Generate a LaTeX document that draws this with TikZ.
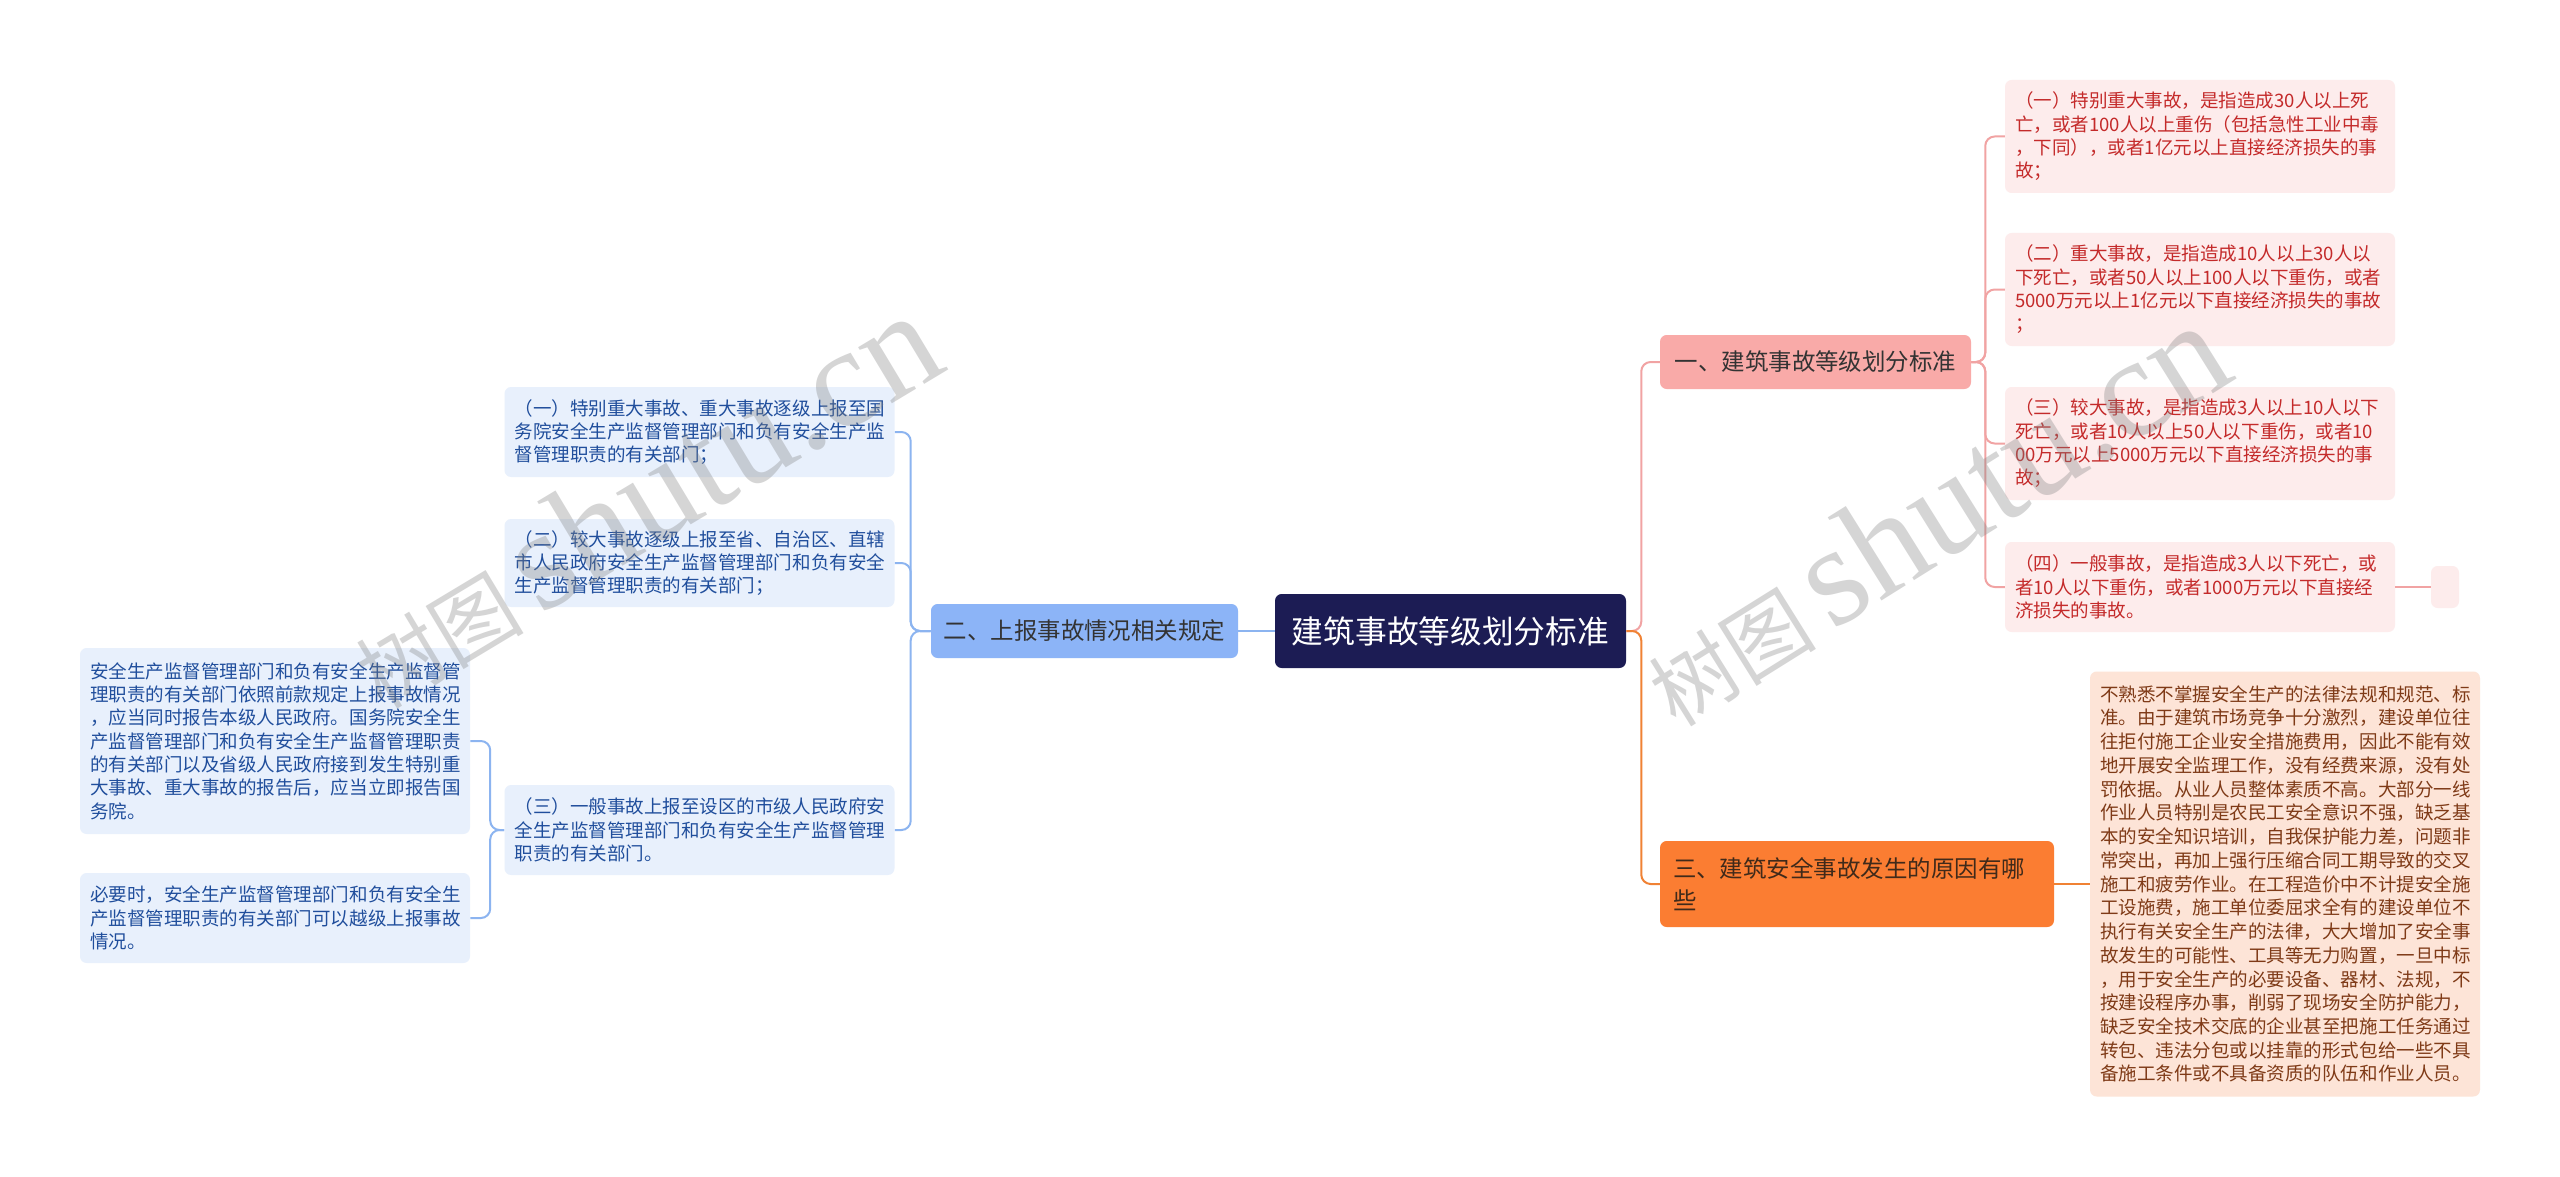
\documentclass[tikz,border=0pt]{standalone}
\usepackage{fontspec}
\setmainfont{Noto Sans CJK SC}
\newfontfamily\wmserif{Liberation Serif}
\definecolor{cfill}{HTML}{1C1C54}
\definecolor{yifill}{HTML}{F9AAA8}
\definecolor{erfill}{HTML}{8CB4F7}
\definecolor{sanfill}{HTML}{FB7D32}
\definecolor{lfill}{HTML}{FDECEC}
\definecolor{ltext}{HTML}{C42A2A}
\definecolor{bfill}{HTML}{E8F0FC}
\definecolor{btext}{HTML}{204E9C}
\definecolor{dfill}{HTML}{FDE4D7}
\definecolor{dtext}{HTML}{7F3A17}
\definecolor{pinkline}{HTML}{F1A3A3}
\definecolor{blueline}{HTML}{8CB4F0}
\definecolor{orangeline}{HTML}{F08234}
\definecolor{darktext}{HTML}{333333}
\definecolor{santext}{HTML}{402A1A}
\tikzset{
  box/.style={rounded corners=5pt, inner ysep=0pt},
  leaf/.style={box, inner xsep=7.5pt, text width=277.5pt, align=left,
    minimum width=292.5pt, font=\fontsize{13.9pt}{17.5pt}\selectfont},
  redleaf/.style={leaf, fill=lfill, text=ltext},
  blueleaf/.style={leaf, fill=bfill, text=btext},
  peachleaf/.style={leaf, fill=dfill, text=dtext, font=\fontsize{13.9pt}{17.8pt}\selectfont},
  branch/.style={box, align=center, minimum height=40.5pt, text=darktext,
    font=\fontsize{17.6pt}{24pt}\selectfont},
  link/.style={line width=1.5pt, rounded corners=7pt},
  wm/.style={text=gray, opacity=0.33, inner sep=0pt}
}
\begin{document}
\begin{tikzpicture}[x=0.75pt,y=-0.75pt]
\useasboundingbox (0,0) rectangle (2560,1177);
\fill[white] (0,0) rectangle (2560,1177);

% central node
\node[box, fill=cfill, text=white, minimum width=263.25pt, minimum height=55.5pt,
  font=\fontsize{23.8pt}{28pt}\selectfont] (root) at (1450.5,631) {建筑事故等级划分标准};

% branches
\node[branch, fill=yifill, minimum width=233.25pt] (yi) at (1815.5,362) {一、建筑事故等级划分标准};
\node[branch, fill=erfill, minimum width=230.25pt] (er) at (1084.5,631) {二、上报事故情况相关规定};
\node[branch, fill=sanfill, text=santext, minimum width=295.5pt, minimum height=64.5pt,
  inner xsep=9.75pt, text width=276pt, align=left] (san) at (1857,884)
  {三、建筑安全事故发生的原因有哪\\些};

% leaves of branch one
\node[redleaf, minimum height=84.75pt] (l1) at (2200,136.5)
{（一）特别重大事故，是指造成30人以上死\\亡，或者100人以上重伤（包括急性工业中毒\\，下同），或者1亿元以上直接经济损失的事\\故；};
\node[redleaf, minimum height=84.75pt] (l2) at (2200,289.5)
{（二）重大事故，是指造成10人以上30人以\\下死亡，或者50人以上100人以下重伤，或者\\5000万元以上1亿元以下直接经济损失的事故\\；};
\node[redleaf, minimum height=84.75pt] (l3) at (2200,443.5)
{（三）较大事故，是指造成3人以上10人以下\\死亡，或者10人以上50人以下重伤，或者10\\00万元以上5000万元以下直接经济损失的事\\故；};
\node[redleaf, minimum height=67.5pt] (l4) at (2200,587)
{（四）一般事故，是指造成3人以下死亡，或\\者10人以下重伤，或者1000万元以下直接经\\济损失的事故。};
\node[box, fill=lfill, minimum width=21pt, minimum height=31.5pt, inner sep=0pt] (l5) at (2445,587) {};

% leaves of branch two
\node[blueleaf, minimum height=67.5pt] (b1) at (699.5,432)
{（一）特别重大事故、重大事故逐级上报至国\\务院安全生产监督管理部门和负有安全生产监\\督管理职责的有关部门；};
\node[blueleaf, minimum height=66pt] (b2) at (699.5,563)
{（二）较大事故逐级上报至省、自治区、直辖\\市人民政府安全生产监督管理部门和负有安全\\生产监督管理职责的有关部门；};
\node[blueleaf, minimum height=67.5pt] (b3) at (699.5,830)
{（三）一般事故上报至设区的市级人民政府安\\全生产监督管理部门和负有安全生产监督管理\\职责的有关部门。};
\node[blueleaf, minimum height=139.5pt] (c1) at (275,741)
{安全生产监督管理部门和负有安全生产监督管\\理职责的有关部门依照前款规定上报事故情况\\，应当同时报告本级人民政府。国务院安全生\\产监督管理部门和负有安全生产监督管理职责\\的有关部门以及省级人民政府接到发生特别重\\大事故、重大事故的报告后，应当立即报告国\\务院。};
\node[blueleaf, minimum height=67.5pt] (c2) at (275,918)
{必要时，安全生产监督管理部门和负有安全生\\产监督管理职责的有关部门可以越级上报事故\\情况。};

% leaf of branch three
\node[peachleaf, minimum height=318.75pt] (d1) at (2285,884)
{不熟悉不掌握安全生产的法律法规和规范、标\\准。由于建筑市场竞争十分激烈，建设单位往\\往拒付施工企业安全措施费用，因此不能有效\\地开展安全监理工作，没有经费来源，没有处\\罚依据。从业人员整体素质不高。大部分一线\\作业人员特别是农民工安全意识不强，缺乏基\\本的安全知识培训，自我保护能力差，问题非\\常突出，再加上强行压缩合同工期导致的交叉\\施工和疲劳作业。在工程造价中不计提安全施\\工设施费，施工单位委屈求全有的建设单位不\\执行有关安全生产的法律，大大增加了安全事\\故发生的可能性、工具等无力购置，一旦中标\\，用于安全生产的必要设备、器材、法规，不\\按建设程序办事，削弱了现场安全防护能力，\\缺乏安全技术交底的企业甚至把施工任务通过\\转包、违法分包或以挂靠的形式包给一些不具\\备施工条件或不具备资质的队伍和作业人员。};

% connectors
\draw[link, blueline] (root.west) -- (er.east);
\foreach \t in {b1,b2,b3}
  \draw[link, blueline] (er.west) -- ++(-20,0) |- (\t.east);
\foreach \t in {c1,c2}
  \draw[link, blueline] (b3.west) -- ++(-14,0) |- (\t.east);
\draw[link, pinkline] (root.east) -- ++(15,0) |- (yi.west);
\draw[link, orangeline] (root.east) -- ++(15,0) |- (san.west);
\foreach \t in {l1,l2,l3,l4}
  \draw[link, pinkline] (yi.east) -- ++(14,0) |- (\t.west);
\draw[link, pinkline] (l4.east) -- (l5.west);
\draw[link, orangeline] (san.east) -- (d1.west);

% watermarks
\node[wm, rotate=31] (wm1) at (643,500)
  {{\fontsize{63pt}{65pt}\selectfont 树图}\hspace{12pt}{\wmserif\fontsize{107pt}{107pt}\selectfont shutu.cn}};
\node[wm, rotate=32] (wm2) at (1933,514)
  {{\fontsize{63pt}{65pt}\selectfont 树图}\hspace{12pt}{\wmserif\fontsize{107pt}{107pt}\selectfont shutu.cn}};
\end{tikzpicture}
\end{document}
